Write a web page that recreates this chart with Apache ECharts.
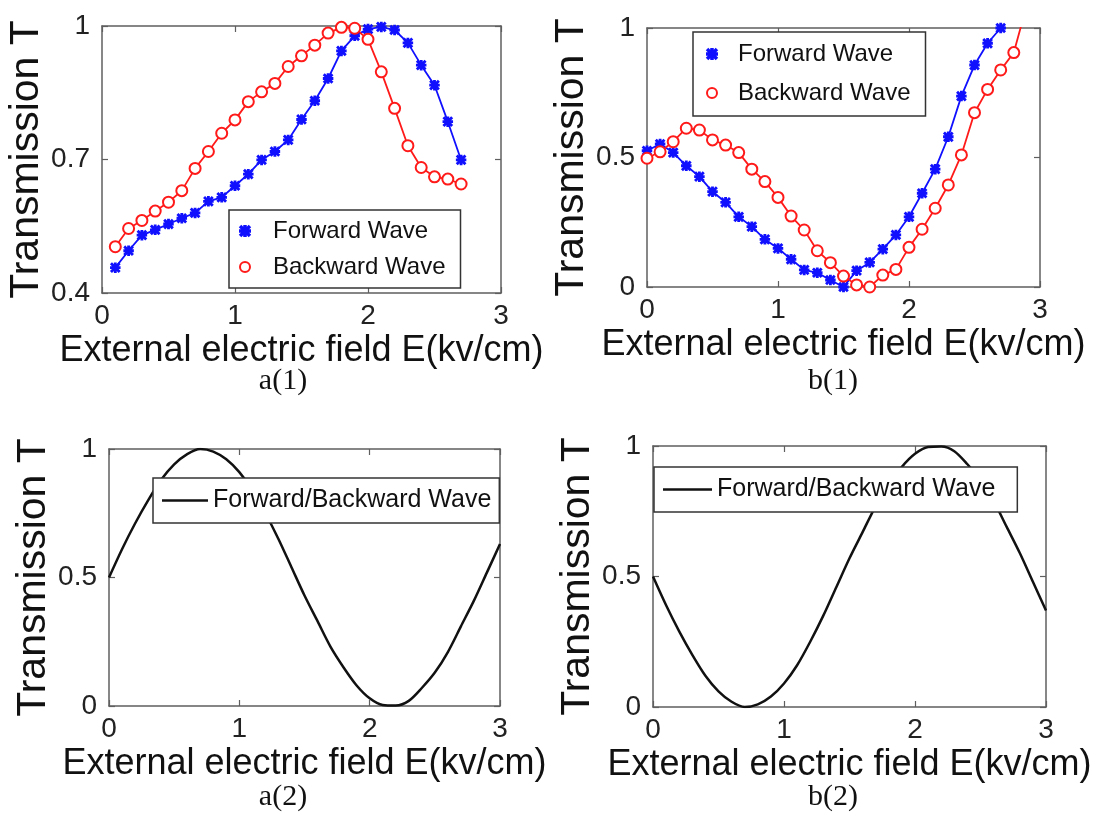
<!DOCTYPE html>
<html><head><meta charset="utf-8">
<script src="https://cdn.jsdelivr.net/npm/echarts@6/dist/echarts.min.js"></script>
<style>html,body{margin:0;padding:0;background:#fff}#c{width:1097px;height:832px}</style>
</head><body><div id="c"></div>
<script>
// ---- data ----
const a1E = [0.1,0.2,0.3,0.4,0.5,0.6,0.7,0.8,0.9,1.0,1.1,1.2,1.3,1.4,1.5,1.6,1.7,1.8,1.9,2.0,2.1,2.2,2.3,2.4,2.5,2.6,2.7];
const a1Forward = [0.457,0.495,0.530,0.542,0.555,0.568,0.580,0.606,0.615,0.641,0.667,0.699,0.718,0.744,0.790,0.832,0.882,0.944,0.978,0.993,0.998,0.991,0.962,0.912,0.867,0.785,0.699];
const a1Backward = [0.504,0.545,0.563,0.584,0.604,0.630,0.680,0.718,0.759,0.789,0.830,0.852,0.871,0.909,0.933,0.957,0.984,0.997,0.995,0.970,0.897,0.815,0.731,0.682,0.661,0.656,0.645];

const b1EForward = [0,0.1,0.2,0.3,0.4,0.5,0.6,0.7,0.8,0.9,1.0,1.1,1.2,1.3,1.4,1.5,1.6,1.7,1.8,1.9,2.0,2.1,2.2,2.3,2.4,2.5,2.6,2.7];
const b1Forward = [0.526,0.552,0.519,0.468,0.426,0.368,0.327,0.271,0.233,0.184,0.149,0.107,0.066,0.055,0.027,0.0,0.063,0.095,0.146,0.201,0.271,0.362,0.455,0.580,0.737,0.857,0.941,1.0];
const b1EBackward = [0,0.1,0.2,0.3,0.4,0.5,0.6,0.7,0.8,0.9,1.0,1.1,1.2,1.3,1.4,1.5,1.6,1.7,1.8,1.9,2.0,2.1,2.2,2.3,2.4,2.5,2.6,2.7,2.8,2.9];
const b1Backward = [0.497,0.522,0.561,0.613,0.606,0.568,0.548,0.519,0.455,0.407,0.346,0.274,0.220,0.140,0.094,0.042,0.008,0.0,0.046,0.068,0.153,0.223,0.304,0.394,0.510,0.673,0.763,0.838,0.905,1.09];

const E2 = [0,0.1,0.2,0.3,0.4,0.5,0.6,0.7,0.8,0.9,1.0,1.1,1.2,1.3,1.4,1.5,1.6,1.7,1.8,1.9,2.0,2.1,2.2,2.3,2.4,2.5,2.6,2.7,2.8,2.9,3.0];
const a2Wave = [0.50,0.61,0.71,0.80,0.88,0.94,0.98,1.00,0.99,0.96,0.91,0.84,0.75,0.65,0.54,0.43,0.33,0.23,0.15,0.08,0.03,0.004,0.002,0.02,0.07,0.13,0.21,0.31,0.41,0.52,0.63];
const b2Wave = [0.50,0.39,0.29,0.20,0.12,0.06,0.02,0.00,0.01,0.04,0.09,0.16,0.25,0.35,0.46,0.57,0.67,0.77,0.85,0.92,0.97,0.996,0.998,0.98,0.93,0.87,0.79,0.69,0.59,0.48,0.37];

const xTitle = 'External electric field E(kv/cm)';
const yTitle = 'Transmission T';
const captions = ['a(1)','b(1)','a(2)','b(2)'];
const nameF = 'Forward Wave', nameB = 'Backward Wave', nameFB = 'Forward/Backward Wave';

// ---- layout & style ----
const FONT = 'Liberation Sans, Arial, sans-serif';
const STAR = 'path://M0,8.5L20,8.5L20,11.5L0,11.5Z M8.5,0L11.5,0L11.5,20L8.5,20Z M2.56,0.44L19.56,17.44L17.44,19.56L0.44,2.56Z M17.44,0.44L19.56,2.56L2.56,19.56L0.44,17.44Z';
const BLUE = '#1010ff', RED = '#ff1a1a', FRAME = '#5f5f5f';
const grids = [
  {left:102, top:26, width:399, height:267},
  {left:647, top:28, width:393, height:259},
  {left:109, top:449, width:391, height:257},
  {left:653, top:446, width:393, height:261}
];
const yRanges = [[0.4,1,0.3],[0,1,0.5],[0,1,0.5],[0,1,0.5]];
const capPos = [[283,381],[833,381],[283,797],[833,797]];

const zip = (xs, ys) => xs.map((x, i) => [x, ys[i]]);
const lineAx = {show:true, onZero:false, lineStyle:{color:FRAME, width:1.5}};
const tickAx = {show:true, inside:true, length:6, lineStyle:{color:FRAME, width:1.2}};

const xAxis = [], yAxis = [];
grids.forEach((g, i) => {
  xAxis.push({type:'value', gridIndex:i, min:0, max:3, interval:1, position:'bottom',
    axisLine:lineAx, axisTick:tickAx, splitLine:{show:false},
    axisLabel:{color:'#222', fontSize:28, fontFamily:FONT, margin:9},
    name:xTitle, nameLocation:'middle', nameGap:40,
    nameTextStyle:{color:'#111', fontSize:36, fontFamily:FONT}});
  xAxis.push({type:'value', gridIndex:i, min:0, max:3, interval:1, position:'top',
    axisLine:lineAx, axisTick:tickAx, splitLine:{show:false}, axisLabel:{show:false}});
  const r = yRanges[i];
  yAxis.push({type:'value', gridIndex:i, min:r[0], max:r[1], interval:r[2], position:'left',
    axisLine:lineAx, axisTick:tickAx, splitLine:{show:false},
    axisLabel:{color:'#222', fontSize:28, fontFamily:FONT, margin:12},
    name:yTitle, nameLocation:'middle', nameGap:55, nameRotate:90,
    nameTextStyle:{color:'#111', fontSize:41, fontFamily:FONT}});
  yAxis.push({type:'value', gridIndex:i, min:r[0], max:r[1], interval:r[2], position:'right',
    axisLine:lineAx, axisTick:tickAx, splitLine:{show:false}, axisLabel:{show:false}});
});

function markerSeries(name, gi, data, color, sym, size) {
  return {type:'line', name, xAxisIndex:2*gi, yAxisIndex:2*gi, data,
    symbol:sym, symbolSize:size, showAllSymbol:true, clip:true,
    lineStyle:{color, width:1.8}, itemStyle:{color, borderColor:color, borderWidth:1.5}};
}
function waveSeries(gi, data) {
  return {type:'line', name:nameFB, xAxisIndex:2*gi, yAxisIndex:2*gi, data,
    symbol:'none', smooth:0.3, clip:true, lineStyle:{color:'#111', width:2.5}, itemStyle:{color:'#111'}};
}

const series = [
  markerSeries(nameF, 0, zip(a1E, a1Forward), BLUE, STAR, 9),
  markerSeries(nameB, 0, zip(a1E, a1Backward), RED, 'emptyCircle', 11),
  markerSeries(nameF, 1, zip(b1EForward, b1Forward), BLUE, STAR, 9),
  markerSeries(nameB, 1, zip(b1EBackward, b1Backward), RED, 'emptyCircle', 11),
  waveSeries(2, zip(E2, a2Wave)),
  waveSeries(3, zip(E2, b2Wave))
];

const legText = {color:'#111', fontSize:24, fontFamily:FONT, lineHeight:24};
const legBase = {orient:'vertical', backgroundColor:'#fff', borderColor:'#333', borderWidth:1.5,
  selectedMode:false, itemHeight:10, textStyle:legText};
const waveText = Object.assign({}, legText, {fontSize:25, lineHeight:25});
const legend = [
  Object.assign({}, legBase, {left:229, top:210, itemWidth:46, itemGap:12, padding:[9,15,9,10],
    data:[{name:nameF, icon:STAR}, {name:nameB, icon:'emptyCircle'}]}),
  Object.assign({}, legBase, {left:693, top:32, itemWidth:42, itemGap:15, padding:[10,15,11,13],
    data:[{name:nameF, icon:STAR}, {name:nameB, icon:'emptyCircle'}]}),
  Object.assign({}, legBase, {left:153, top:478, itemWidth:46, itemHeight:2.5, symbolKeepAspect:false,
    padding:[10,8,10,9], textStyle:waveText, data:[{name:nameFB, icon:'rect'}]}),
  Object.assign({}, legBase, {left:654, top:467, itemWidth:49, itemHeight:2.5, symbolKeepAspect:false,
    padding:[10,22,10,9], textStyle:waveText, data:[{name:nameFB, icon:'rect'}]})
];

const graphic = captions.map((t, i) => ({type:'text', x:capPos[i][0], y:capPos[i][1], z:10,
  style:{text:t, fill:'#111', font:'30px "Liberation Serif", "Times New Roman", serif',
    align:'center', verticalAlign:'middle', textAlign:'center', textVerticalAlign:'middle'}}));

const chart = echarts.init(document.getElementById('c'));
chart.setOption({animation:false, backgroundColor:'#fff', grid:grids, xAxis, yAxis, series, legend, graphic});
</script>
</body></html>
